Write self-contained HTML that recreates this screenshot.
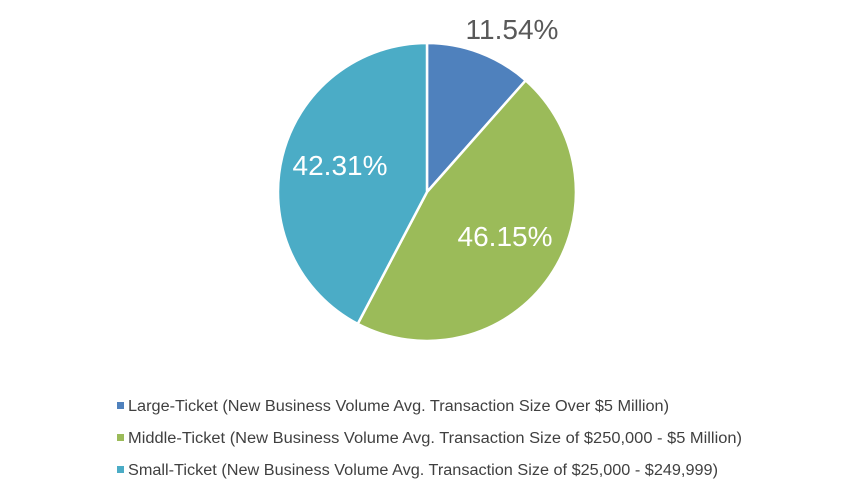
<!DOCTYPE html>
<html><head><meta charset="utf-8"><style>
html,body{margin:0;padding:0;background:#fff;}
body{width:853px;height:496px;overflow:hidden;font-family:"Liberation Sans",Arial,sans-serif;}
</style></head><body>
<svg width="853" height="496" viewBox="0 0 853 496" xmlns="http://www.w3.org/2000/svg">
<g stroke="#fff" stroke-width="2.5" stroke-linejoin="round">
<path d="M427,192 L427,43 A149,149 0 0 1 525.7,80.4 Z" fill="#4F81BD"/>
<path d="M427,192 L525.7,80.4 A149,149 0 0 1 357.7,323.9 Z" fill="#9BBB59"/>
<path d="M427,192 L357.7,323.9 A149,149 0 0 1 427,43 Z" fill="#4BACC6"/>
</g>
<g font-family="Liberation Sans, Arial, sans-serif" font-size="28">
<text x="512" y="39" text-anchor="middle" fill="#595959">11.54%</text>
<text x="505" y="246" text-anchor="middle" fill="#fff">46.15%</text>
<text x="340" y="175" text-anchor="middle" fill="#fff">42.31%</text>
</g>
<g font-family="Liberation Sans, Arial, sans-serif" font-size="15.5" fill="#404040">
<rect x="117" y="402" width="7" height="7" fill="#4F81BD"/>
<text x="128" y="411" textLength="541" lengthAdjust="spacingAndGlyphs">Large-Ticket (New Business Volume Avg. Transaction Size Over $5 Million)</text>
<rect x="117" y="434" width="7" height="7" fill="#9BBB59"/>
<text x="128" y="443" textLength="614" lengthAdjust="spacingAndGlyphs">Middle-Ticket (New Business Volume Avg. Transaction Size of $250,000 - $5 Million)</text>
<rect x="117" y="466" width="7" height="7" fill="#4BACC6"/>
<text x="128" y="475" textLength="590" lengthAdjust="spacingAndGlyphs">Small-Ticket (New Business Volume Avg. Transaction Size of $25,000 - $249,999)</text>
</g>
</svg>
</body></html>
